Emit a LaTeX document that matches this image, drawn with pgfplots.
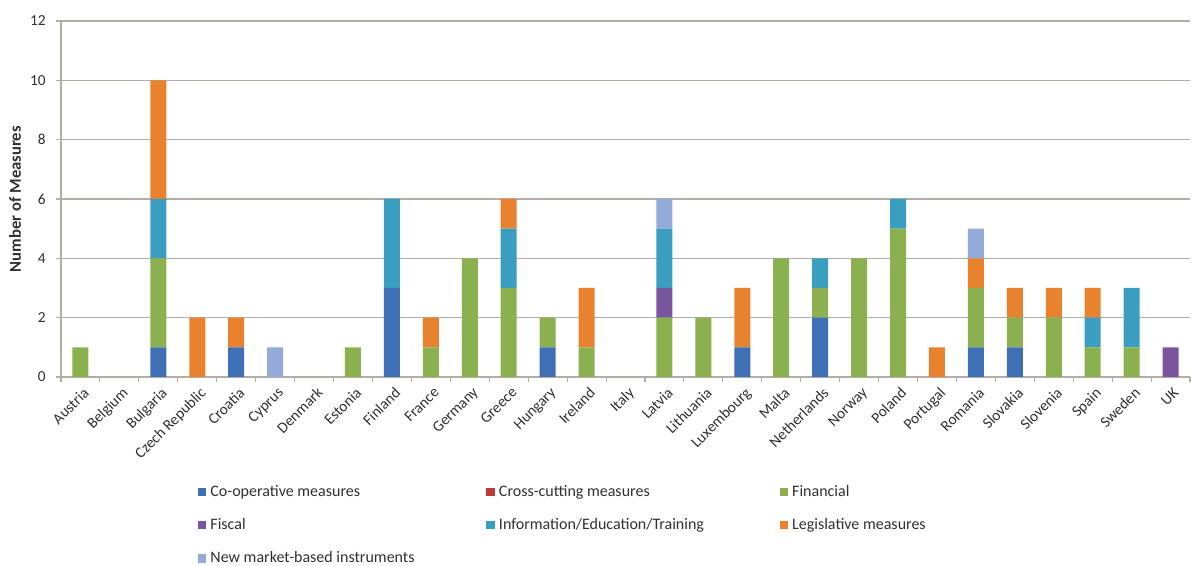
\documentclass[border=0pt]{standalone}
\usepackage{pgfplots}
\usepackage{pgfplotstable}
\pgfplotsset{compat=1.18}
\usepackage{fontspec}
\setmainfont{Carlito}
\definecolor{coop}{HTML}{3F6FB5}
\definecolor{cross}{HTML}{BE3A34}
\definecolor{fin}{HTML}{8AB04F}
\definecolor{fisc}{HTML}{7A559E}
\definecolor{info}{HTML}{3A9EC0}
\definecolor{leg}{HTML}{E8822E}
\definecolor{nmb}{HTML}{94ABDA}
\definecolor{gridc}{HTML}{B4ACA6}
\definecolor{txt}{HTML}{303030}
\pgfplotstableread{
x coop cross fin fiscal info leg nmb
0 0 0 1 0 0 0 0
1 0 0 0 0 0 0 0
2 1 0 3 0 2 4 0
3 0 0 0 0 0 2 0
4 1 0 0 0 0 1 0
5 0 0 0 0 0 0 1
6 0 0 0 0 0 0 0
7 0 0 1 0 0 0 0
8 3 0 0 0 3 0 0
9 0 0 1 0 0 1 0
10 0 0 4 0 0 0 0
11 0 0 3 0 2 1 0
12 1 0 1 0 0 0 0
13 0 0 1 0 0 2 0
14 0 0 0 0 0 0 0
15 0 0 2 1 2 0 1
16 0 0 2 0 0 0 0
17 1 0 0 0 0 2 0
18 0 0 4 0 0 0 0
19 2 0 1 0 1 0 0
20 0 0 4 0 0 0 0
21 0 0 5 0 1 0 0
22 0 0 0 0 0 1 0
23 1 0 2 0 0 1 1
24 1 0 1 0 0 1 0
25 0 0 2 0 0 1 0
26 0 0 1 0 1 1 0
27 0 0 1 0 2 0 0
28 0 0 0 1 0 0 0
}\data
\begin{document}
\begin{tikzpicture}
\useasboundingbox (-45.75pt,-141.75pt) rectangle (850.5pt,282.75pt);
\begin{axis}[
  at={(0,0)}, anchor=south west,
  scale only axis,
  width=846.75pt, height=267pt,
  ybar stacked, bar width=12pt,
  xmin=-0.5, xmax=28.5,
  ymin=0, ymax=12,
  ytick={0,2,...,12},
  xtick={0,...,28},
  xticklabels={Austria,Belgium,Bulgaria,Czech Republic,Croatia,Cyprus,Denmark,Estonia,Finland,France,Germany,Greece,Hungary,Ireland,Italy,Latvia,Lithuania,Luxembourg,Malta,Netherlands,Norway,Poland,Portugal,Romania,Slovakia,Slovenia,Spain,Sweden,UK},
  minor xtick={-0.5,0.5,...,28.5},
  every major x tick/.append style={draw=none},
  major tick length=4pt, minor tick length=4pt,
  tick align=outside,
  axis x line*=bottom, axis y line*=left,
  axis line style={gridc, line width=0.8pt},
  tick style={gridc, line width=0.8pt},
  ymajorgrids, grid style={gridc, line width=0.8pt},
  /pgf/number format/assume math mode=true,
  ticklabel style={font=\fontsize{11.5}{13}\selectfont, text=txt},
  xticklabel style={rotate=45, anchor=north east, inner sep=1pt, yshift=-2pt},
  yticklabel style={xshift=-4pt},
  ylabel={Number of Measures},
  ylabel style={font=\fontsize{12.5}{14}\bfseries\selectfont, text=txt, yshift=0pt},
  legend columns=3,
  legend style={at={(0.1175,-0.289)}, anchor=north west, draw=none, fill=none,
    font=\fontsize{12}{14}\selectfont, text=txt, row sep=11pt,
    /tikz/every odd column/.append style={column sep=1pt}},
  legend cell align=left,
  legend image code/.code={\fill[#1] (0pt,-3.2pt) rectangle (6.4pt,3.2pt);},
]
\addplot[fill=coop, draw=none] table[x=x,y=coop]{\data};
\addlegendentry{\makebox[205pt][l]{Co-operative measures}}
\addplot[fill=cross, draw=none] table[x=x,y=cross]{\data};
\addlegendentry{\makebox[208.5pt][l]{Cross-cutting measures}}
\addplot[fill=fin, draw=none] table[x=x,y=fin]{\data};
\addlegendentry{\makebox[100pt][l]{Financial}}
\addplot[fill=fisc, draw=none] table[x=x,y=fiscal]{\data};
\addlegendentry{\makebox[205pt][l]{Fiscal}}
\addplot[fill=info, draw=none] table[x=x,y=info]{\data};
\addlegendentry{\makebox[208.5pt][l]{Information/Education/Training}}
\addplot[fill=leg, draw=none] table[x=x,y=leg]{\data};
\addlegendentry{\makebox[100pt][l]{Legislative measures}}
\addplot[fill=nmb, draw=none] table[x=x,y=nmb]{\data};
\addlegendentry{\makebox[205pt][l]{New market-based instruments}}
\end{axis}
\end{tikzpicture}
\end{document}
